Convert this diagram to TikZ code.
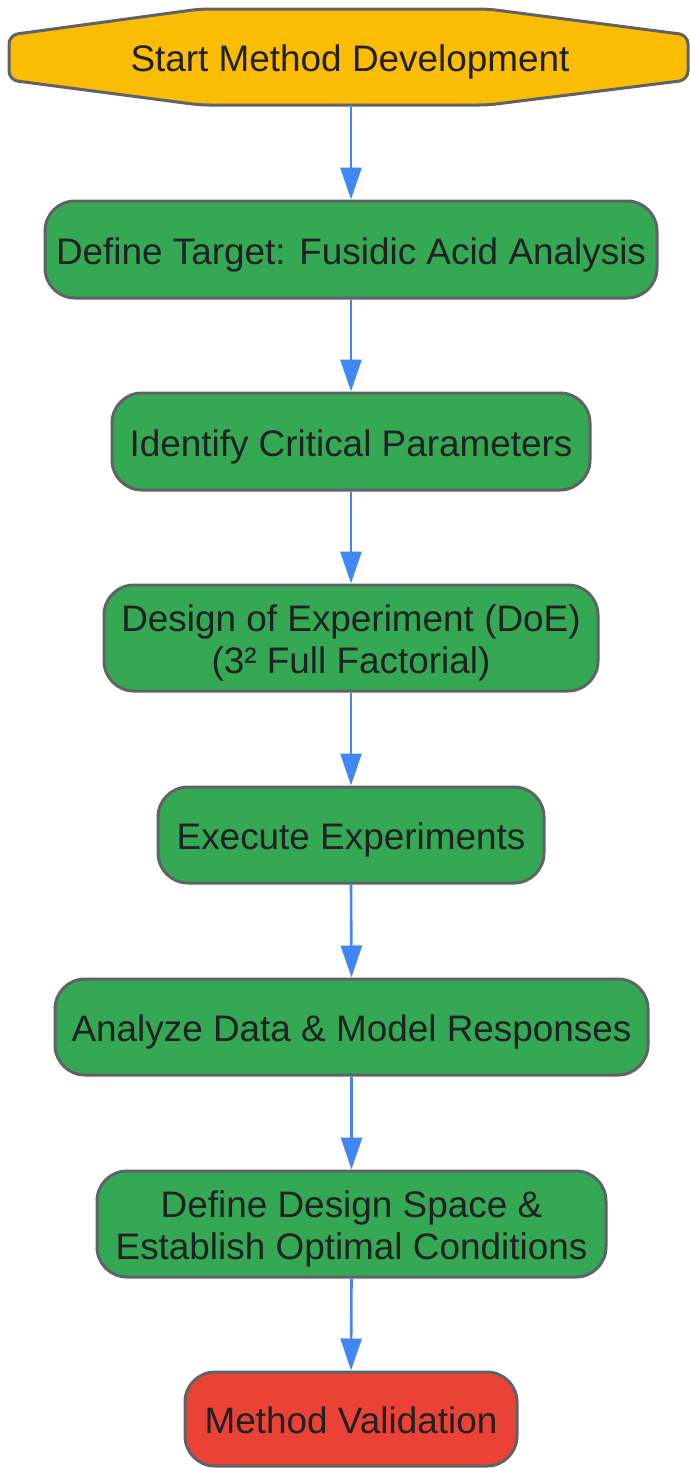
\documentclass[tikz,border=0pt]{standalone}
\usepackage{fontspec}
\setmainfont{Liberation Sans}
\usetikzlibrary{arrows.meta}
\definecolor{gborder}{HTML}{5F6368}
\definecolor{ggreen}{HTML}{34A853}
\definecolor{gyellow}{HTML}{FBBC04}
\definecolor{gred}{HTML}{EA4335}
\definecolor{gblue}{HTML}{4285F4}
\definecolor{gtext}{HTML}{202124}
\newcommand{\topstrut}{\rule{0pt}{1.01em}}
\newcommand{\botstrut}{\rule[-0.212em]{0pt}{0pt}}
\tikzset{
  txt/.style={text=gtext, align=center, inner sep=0pt,
    font=\fontsize{36.9}{42}\selectfont},
  stepbox/.style={txt, rectangle, rounded corners=30pt, draw=gborder, line width=3pt,
    fill=ggreen},
  flow/.style={draw=gblue, line width=2.6pt, -{Triangle[length=32pt,width=21pt]}},
}
\begin{document}
\begin{tikzpicture}[x=1pt,y=-1pt]
\useasboundingbox (0,0) rectangle (691,1468);
% start hexagon
\draw[draw=gborder, line width=3pt, fill=gyellow, rounded corners=9pt]
  (9,35) -- (200,9) -- (488,9) -- (688,35) -- (688,80) -- (488,105) -- (200,105) -- (9,80) -- cycle;
\node[txt, minimum width=679pt, minimum height=96pt] (start) at (350,57) {\topstrut Start Method Development\botstrut};

\node[stepbox, minimum width=612pt, minimum height=97pt] (n1) at (351,249.5) {\topstrut Define Target: Fusidic Acid Analysis\botstrut};
\node[stepbox, minimum width=478pt, minimum height=97pt] (n2) at (351,441.5) {\topstrut Identify Critical Parameters\botstrut};
\node[stepbox, minimum width=494pt, minimum height=106pt] (n3) at (351,638) {\topstrut Design of Experiment (DoE)\\(3² Full Factorial)\botstrut};
\node[stepbox, minimum width=386pt, minimum height=96pt] (n4) at (351,835) {\topstrut Execute Experiments\botstrut};
\node[stepbox, minimum width=593pt, minimum height=96pt] (n5) at (351.5,1027) {\topstrut Analyze Data \& Model Responses\botstrut};
\node[stepbox, minimum width=509pt, minimum height=106pt] (n6) at (351.5,1224) {\topstrut Define Design Space \&\\Establish Optimal Conditions\botstrut};
\node[stepbox, fill=gred, minimum width=332pt, minimum height=94pt] (n7) at (351,1419) {\topstrut Method Validation\botstrut};

\draw[flow] (start.south -| n1.north) -- (n1.north);
\draw[flow] (n1.south) -- (n2.north);
\draw[flow] (n2.south) -- (n3.north);
\draw[flow] (n3.south) -- (n4.north);
\draw[flow] (n4.south) -- (n5.north);
\draw[flow] (n5.south) -- (n6.north);
\draw[flow] (n6.south) -- (n7.north);
\end{tikzpicture}
\end{document}
